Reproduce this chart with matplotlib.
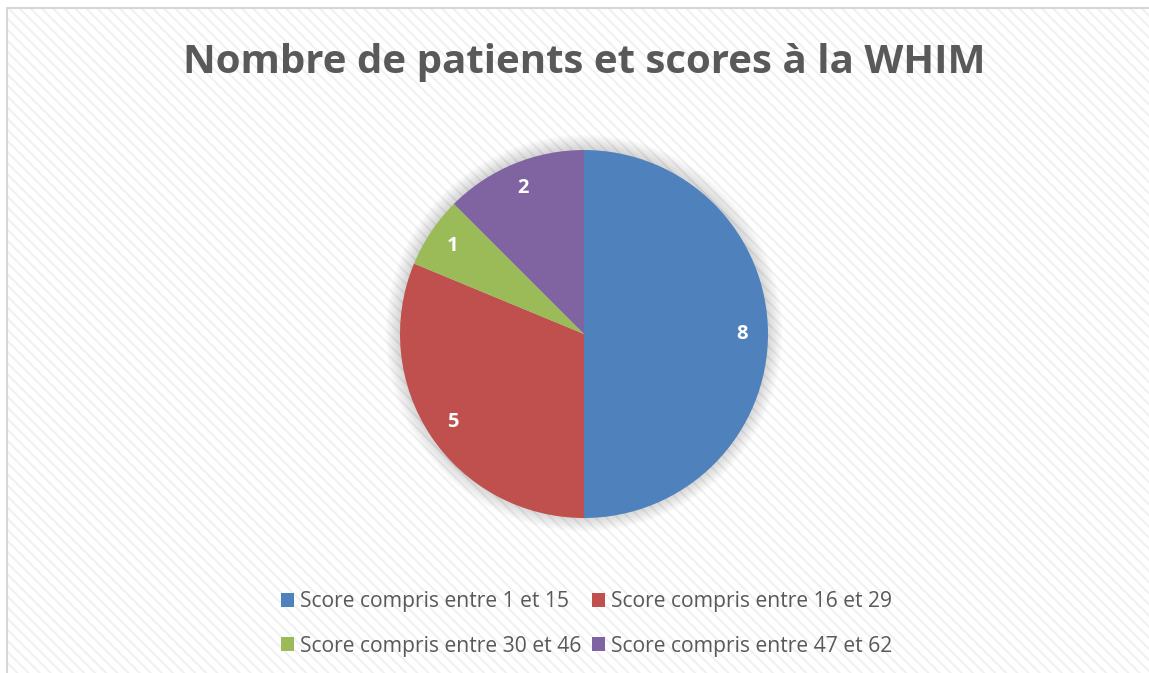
import matplotlib.pyplot as plt
from matplotlib.patches import Rectangle, Patch, Circle
from matplotlib.lines import Line2D

# ---- data ----
categories = ["Score compris entre 1 et 15", "Score compris entre 16 et 29",
              "Score compris entre 30 et 46", "Score compris entre 47 et 62"]
patients = [8, 5, 1, 2]
colors = ["#4f81bd", "#c0504d", "#9bbb59", "#8064a2"]
title = "Nombre de patients et scores à la WHIM"

plt.rcParams['font.family'] = ['Open Sans', 'DejaVu Sans']
plt.rcParams['hatch.linewidth'] = 1.4

W, H = 1149, 673
fig = plt.figure(figsize=(W / 100, H / 100), dpi=100)
fig.patch.set_facecolor("white")

# background axes covering the figure: hatched area + left/top border
x0, ytop = 7 / W, 1 - 8 / H
bg = fig.add_axes([0, 0, 1, 1], zorder=-5)
bg.set_xlim(0, 1)
bg.set_ylim(0, 1)
bg.axis("off")
bg.add_patch(Rectangle((x0, -1), 3, ytop + 1, facecolor="white", edgecolor="#f0f0f0",
                       hatch="\\\\\\", linewidth=0))
bg.add_line(Line2D([x0, x0, 1.05], [-0.05, ytop, ytop], color="#d6d6d6", linewidth=1.5,
                   solid_capstyle="butt", clip_on=False))

# pie axes, centered at (584, 334) px with radius 184 px
cx, cy, r = 584, 334, 184
pad = 1.15
ax = fig.add_axes([(cx - r * pad) / W, (H - cy - r * pad) / H, 2 * r * pad / W, 2 * r * pad / H])
ax.set_zorder(5)
ax.patch.set_visible(False)

# soft shadow
for i in range(20):
    ax.add_patch(Circle((0, 0.005), 1.0 + 0.004 * (i + 1), facecolor="#000000",
                        alpha=0.009, edgecolor="none", zorder=0))

total = sum(patients)
wedges, texts, autotexts = ax.pie(
    patients, colors=colors, startangle=90, counterclock=False,
    autopct=lambda p: f"{round(p * total / 100):d}", pctdistance=0.86,
    wedgeprops=dict(linewidth=0), textprops=dict(color="white", fontsize=14.5, fontweight="bold"))
for w in wedges:
    w.set_zorder(2)
for t in autotexts:
    t.set_zorder(3)
ax.set_xlim(-pad, pad)
ax.set_ylim(-pad, pad)
ax.set_aspect("equal")
ax.axis("off")

fig.text(cx / W, 1 - 62 / H, title, ha="center", va="center",
         fontsize=29, fontweight="bold", color="#595959")

# legend filled row by row
order = [0, 2, 1, 3]
handles = [Patch(facecolor=colors[i], edgecolor="none") for i in order]
labels = [categories[i] for i in order]
leg = fig.legend(handles, labels, loc="center", bbox_to_anchor=(587 / W, 1 - 624 / H),
                 ncol=2, frameon=False, fontsize=15.2, labelcolor="#595959",
                 handlelength=0.6, handleheight=0.6, handletextpad=0.3,
                 columnspacing=0.5, labelspacing=1.1)
leg.set_zorder(6)

fig.savefig("out.png", dpi=100)
